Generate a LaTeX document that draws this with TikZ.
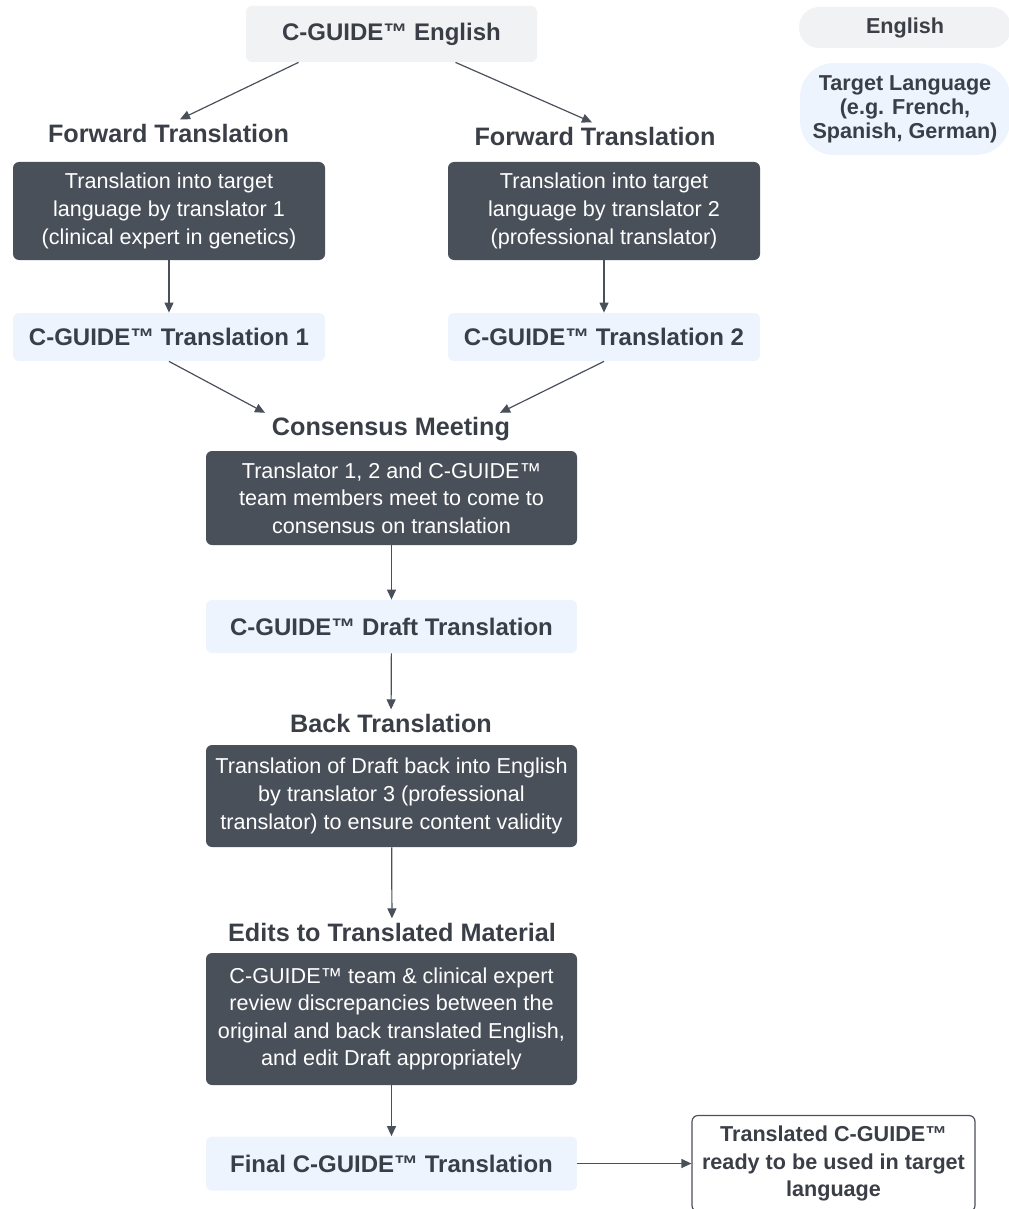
\documentclass[tikz,border=0pt]{standalone}
\usepackage{fontspec}
\setmainfont{Liberation Sans}
\usetikzlibrary{arrows.meta}
\definecolor{slate}{RGB}{74,80,90}
\definecolor{inkgray}{RGB}{58,62,70}
\definecolor{paleblue}{RGB}{237,244,254}
\definecolor{palegray}{RGB}{241,242,244}
\tikzset{
  darkbox/.style={rectangle, rounded corners=3pt, fill=slate, text=white, align=center,
    font=\fontsize{10.8}{13.8}\selectfont},
  titlebox/.style={rectangle, rounded corners=3pt, fill=paleblue, text=inkgray,
    font=\bfseries\fontsize{12}{14}\selectfont},
  heading/.style={text=inkgray, font=\bfseries\fontsize{12.6}{15}\selectfont, inner sep=2pt},
  pill/.style={rectangle, text=inkgray, align=center, font=\bfseries\fontsize{10.8}{12}\selectfont},
  arr/.style={draw=slate, line width=0.6pt, -{Triangle[length=5pt,width=4.5pt]}}
}
\begin{document}
\begin{tikzpicture}[x=0.5pt,y=-0.5pt]
  \useasboundingbox (0,0) rectangle (1008,1209);
  % legend
  \node[pill, fill=palegray, rounded corners=10pt, minimum width=106pt, minimum height=20.5pt] (legeng) at (905,27.5) {English};
  \node[pill, fill=paleblue, rounded corners=17pt, minimum width=105pt, minimum height=46pt] (legtgt) at (905,109) {Target Language\\(e.g. French,\\Spanish, German)};
  % source
  \node[titlebox, fill=palegray, minimum width=145.5pt, minimum height=28pt] (eng) at (391.5,34) {C-GUIDE™ English};
  % forward translations
  \node[heading] (fwdhead1) at (168.5,133) {Forward Translation};
  \node[heading] (fwdhead2) at (595,136) {Forward Translation};
  \node[darkbox, minimum width=156pt, minimum height=49pt] (fwd1) at (169,211) {Translation into target\\language by translator 1\\(clinical expert in genetics)};
  \node[darkbox, minimum width=156pt, minimum height=49pt] (fwd2) at (604,211) {Translation into target\\language by translator 2\\(professional translator)};
  \node[titlebox, minimum width=156pt, minimum height=24pt] (trans1) at (169,337) {C-GUIDE™ Translation 1};
  \node[titlebox, minimum width=156pt, minimum height=24pt] (trans2) at (604,337) {C-GUIDE™ Translation 2};
  % consensus
  \node[heading] (conshead) at (391,429) {Consensus Meeting};
  \node[darkbox, minimum width=185.5pt, minimum height=47pt] (cons) at (391.5,498) {Translator 1, 2 and C-GUIDE™\\team members meet to come to\\consensus on translation};
  \node[titlebox, minimum width=185.5pt, minimum height=26.5pt] (draft) at (391.5,626.5) {C-GUIDE™ Draft Translation};
  % back translation
  \node[heading] (backhead) at (391,723) {Back Translation};
  \node[darkbox, minimum width=185.5pt, minimum height=51pt] (back) at (391.5,796) {Translation of Draft back into English\\by translator 3 (professional\\translator) to ensure content validity};
  % edits
  \node[heading] (edithead) at (392,932) {Edits to Translated Material};
  \node[darkbox, minimum width=185.5pt, minimum height=66pt] (edits) at (391.5,1019) {C-GUIDE™ team \& clinical expert\\review discrepancies between the\\original and back translated English,\\and edit Draft appropriately};
  \node[titlebox, minimum width=185.5pt, minimum height=27pt] (final) at (391.5,1163.5) {Final C-GUIDE™ Translation};
  \node[pill, fill=white, draw=slate, line width=0.6pt, rounded corners=3pt, minimum width=141.5pt, minimum height=48pt,
    font=\bfseries\fontsize{10.8}{13.8}\selectfont] (ready) at (833.5,1163.5) {Translated C-GUIDE™\\ready to be used in target\\language};
  % connectors
  \draw[arr] ([xshift=-46.5pt]eng.south) -- ([xshift=5.75pt]fwdhead1.north);
  \draw[arr] ([xshift=32pt]eng.south) -- ([xshift=-1.5pt]fwdhead2.north);
  \draw[arr] (fwd1) -- (trans1);
  \draw[arr] (fwd2) -- (trans2);
  \draw[arr] (trans1.south) -- ([xshift=-63pt]conshead.north);
  \draw[arr] (trans2.south) -- ([xshift=54.5pt]conshead.north);
  \draw[arr] (cons) -- (draft);
  \draw[arr] (draft) -- (backhead);
  \draw[arr] (back) -- (edithead);
  \draw[arr] (edits) -- (final);
  \draw[arr] (final.east) -- (ready.west);
\end{tikzpicture}
\end{document}
